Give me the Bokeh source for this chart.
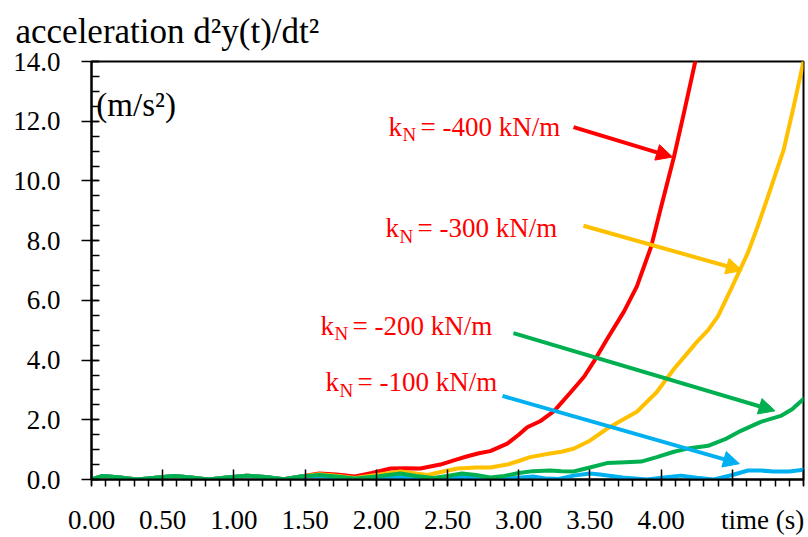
from bokeh.plotting import figure
from bokeh.models import FixedTicker, NumeralTickFormatter, Label, Arrow, NormalHead
from bokeh.embed import file_html
from bokeh.resources import INLINE

# ---- data ----
t_early = [0.0, 0.08, 0.2, 0.32, 0.45, 0.58, 0.7, 0.82, 0.95, 1.09, 1.22, 1.35, 1.47]
y_early = [0.0, 0.12, 0.07, 0.0, 0.06, 0.12, 0.07, 0.0, 0.07, 0.13, 0.08, 0.01, 0.1]

t_400 = [1.6, 1.72, 1.85, 1.97, 2.1, 2.2, 2.31, 2.45, 2.55, 2.64, 2.72, 2.8, 2.92, 3.0,
         3.06, 3.15, 3.25, 3.385, 3.46, 3.525, 3.62, 3.74, 3.83, 3.93, 4.0, 4.09, 4.16,
         4.24, 4.3]
a_400 = [0.2, 0.17, 0.1, 0.22, 0.37, 0.38, 0.37, 0.5, 0.65, 0.78, 0.88, 0.95, 1.2, 1.5,
         1.75, 1.95, 2.3, 3.03, 3.45, 3.93, 4.7, 5.63, 6.47, 7.8, 9.13, 10.8, 12.27,
         14.0, 15.2]

t_300 = [1.6, 1.72, 1.85, 2.0, 2.17, 2.36, 2.47, 2.57, 2.7, 2.8, 2.92, 3.0, 3.08, 3.22,
         3.3, 3.385, 3.5, 3.62, 3.73, 3.83, 3.97, 4.09, 4.17, 4.25, 4.33, 4.4, 4.5, 4.61,
         4.68, 4.75, 4.86, 4.93, 5.0]
a_300 = [0.18, 0.13, 0.05, 0.15, 0.27, 0.15, 0.27, 0.37, 0.4, 0.4, 0.5, 0.62, 0.75, 0.87,
         0.93, 1.03, 1.3, 1.7, 2.0, 2.27, 2.93, 3.7, 4.15, 4.6, 5.0, 5.47, 6.47, 7.6,
         8.5, 9.47, 11.03, 12.47, 14.0]

t_200 = [1.6, 1.72, 1.85, 2.0, 2.17, 2.28, 2.4, 2.5, 2.6, 2.7, 2.8, 2.9, 3.0, 3.1, 3.22,
         3.3, 3.385, 3.5, 3.62, 3.75, 3.86, 3.97, 4.09, 4.2, 4.33, 4.45, 4.56, 4.7, 4.84,
         4.92, 5.0]
a_200 = [0.15, 0.1, 0.03, 0.1, 0.2, 0.12, 0.05, 0.12, 0.2, 0.15, 0.07, 0.12, 0.22, 0.28,
         0.3, 0.28, 0.27, 0.4, 0.55, 0.58, 0.6, 0.75, 0.93, 1.05, 1.13, 1.35, 1.63, 1.93,
         2.13, 2.35, 2.7]

t_100 = [1.6, 1.72, 1.85, 1.97, 2.1, 2.22, 2.35, 2.47, 2.6, 2.72, 2.85, 2.97, 3.1, 3.2,
         3.28, 3.385, 3.5, 3.57, 3.73, 3.9, 4.02, 4.14, 4.25, 4.37, 4.5, 4.61, 4.7, 4.79,
         4.9, 5.0]
a_100 = [0.12, 0.07, 0.0, 0.05, 0.1, 0.05, 0.0, 0.04, 0.08, 0.04, 0.0, 0.05, 0.1, 0.03,
         0.02, 0.13, 0.2, 0.17, 0.07, 0.0, 0.07, 0.13, 0.06, 0.0, 0.15, 0.3, 0.3, 0.27,
         0.27, 0.33]

series_names = ["-400", "-300", "-200", "-100"]
series_colors = ["#ff0000", "#ffc000", "#00b050", "#00b0f0"]

x_ticks = [0.0, 0.5, 1.0, 1.5, 2.0, 2.5, 3.0, 3.5, 4.0, 4.5, 5.0]
y_ticks = [0, 2, 4, 6, 8, 10, 12, 14]
x_title = "time (s)"

# annotation texts and arrows (label anchor, arrow start -> end) in data units
ann_text = ["= -400 kN/m", "= -300 kN/m", "= -200 kN/m", "= -100 kN/m"]
ann_pos = [(2.086, 11.82), (2.065, 8.42), (1.608, 5.15), (1.643, 3.25)]
arrow_start = [(3.385, 11.8), (3.455, 8.5), (2.963, 4.9), (2.886, 2.8)]
arrow_end = [(4.08, 10.8), (4.57, 7.0), (4.80, 2.3), (4.55, 0.53)]

SERIF = "Liberation Serif"

p = figure(width=808, height=537, x_range=(0, 5), y_range=(0, 14),
           output_backend="svg", toolbar_location=None,
           min_border_left=91, min_border_right=5, min_border_top=61,
           min_border_bottom=56)
p.xgrid.visible = False
p.ygrid.visible = False
p.outline_line_color = "black"
p.outline_line_width = 2
p.background_fill_color = "white"
p.border_fill_color = "white"

# title
p.title.text = "acceleration d²y(t)/dt²"
p.title.text_font = SERIF
p.title.text_font_size = "35px"
p.title.text_font_style = "normal"
p.title.text_color = "black"
p.title.align = "left"
p.title.vertical_align = "top"
p.title.offset = -76
p.title.standoff = 18

# axes
xa = p.xaxis[0]
xa.ticker = FixedTicker(ticks=x_ticks, minor_ticks=[round(i * 0.1, 1) for i in range(51)])
xa.formatter = NumeralTickFormatter(format="0.00")
xa.major_label_overrides = {4.5: "\u00a0" * 9 + x_title, 5.0: ""}
xa.axis_line_width = 2
xa.axis_line_color = "black"
xa.major_tick_in = 10
xa.major_tick_out = 6
xa.minor_tick_in = 0
xa.minor_tick_out = 7
xa.major_tick_line_width = 1.5
xa.minor_tick_line_width = 1.5
xa.major_tick_line_color = "black"
xa.minor_tick_line_color = "black"
xa.major_label_text_font = SERIF
xa.major_label_text_font_size = "27px"
xa.major_label_text_color = "black"
xa.major_label_standoff = 18

ya = p.yaxis[0]
ya.ticker = FixedTicker(ticks=y_ticks, minor_ticks=[i * 0.5 for i in range(29)])
ya.formatter = NumeralTickFormatter(format="0.0")
ya.axis_line_width = 2
ya.axis_line_color = "black"
ya.major_tick_in = 7
ya.major_tick_out = 10
ya.minor_tick_in = 8
ya.minor_tick_out = 0
ya.major_tick_line_width = 1.5
ya.minor_tick_line_width = 1.5
ya.major_tick_line_color = "black"
ya.minor_tick_line_color = "black"
ya.major_label_text_font = SERIF
ya.major_label_text_font_size = "27px"
ya.major_label_text_color = "black"
ya.major_label_standoff = 21

# curves (drawn so that green ends on top, as in the reference)
curves = {
    "-400": (t_early + t_400, y_early + a_400),
    "-300": (t_early + t_300, y_early + a_300),
    "-100": (t_early + t_100, y_early + a_100),
    "-200": (t_early + t_200, y_early + a_200),
}
for name in ["-400", "-300", "-100", "-200"]:
    xs, ys = curves[name]
    col = series_colors[series_names.index(name)]
    p.line(xs, ys, line_color=col, line_width=4, line_join="round", line_cap="round")

# arrows and annotation labels
for i in range(4):
    col = series_colors[i]
    (x0, y0), (x1, y1) = arrow_start[i], arrow_end[i]
    p.add_layout(Arrow(x_start=x0, y_start=y0, x_end=x1, y_end=y1,
                       line_color=col, line_width=4,
                       end=NormalHead(size=16, fill_color=col, line_color=col)))
    lx, ly = ann_pos[i]
    p.add_layout(Label(x=lx, y=ly, text="k", text_font=SERIF,
                       text_font_size="27px", text_color="#ff0000",
                       text_baseline="middle"))
    p.add_layout(Label(x=lx, y=ly, x_offset=14, y_offset=-8, text="N", text_font=SERIF,
                       text_font_size="19px", text_color="#ff0000",
                       text_baseline="middle"))
    p.add_layout(Label(x=lx, y=ly, x_offset=32, text=ann_text[i], text_font=SERIF,
                       text_font_size="27px", text_color="#ff0000",
                       text_baseline="middle"))

# unit label inside the plot
p.add_layout(Label(x=0.02, y=12.53, x_offset=2, text="(m/s²)", text_font=SERIF,
                   text_font_size="33px", text_color="black",
                   text_baseline="middle"))

open("out.html", "w").write(file_html(p, INLINE))
